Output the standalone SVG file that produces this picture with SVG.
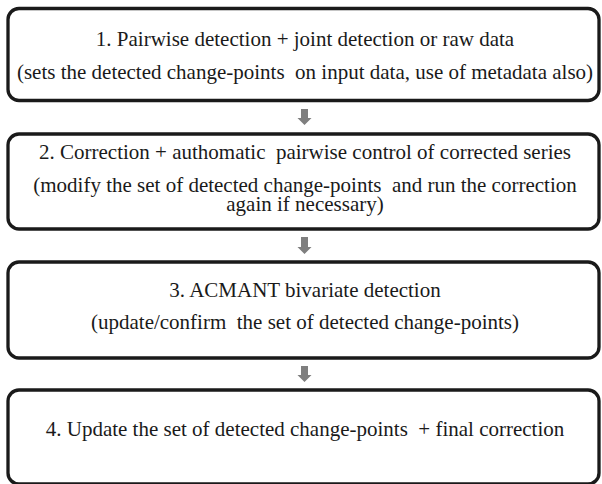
<svg xmlns="http://www.w3.org/2000/svg" width="602" height="484" viewBox="0 0 602 484">
<style>
.box{fill:#fff;stroke:#1a1a1a;stroke-width:3.3}
.t{font-family:'Liberation Serif','Times New Roman',serif;font-size:21px;fill:#1a1a1a;text-anchor:middle;white-space:pre}
.arr{fill:#7f7f7f}
</style>
<rect width="602" height="484" fill="#fff"/>
<g id="node1">
<rect class="box" x="8" y="8.5" width="591" height="92" rx="11"/>
<text class="t" x="305" y="46">1. Pairwise detection + joint detection or raw data</text>
<text class="t" x="305" y="79">(sets the detected change-points  on input data, use of metadata also)</text>
</g>
<g id="node2">
<rect class="box" x="8" y="134" width="591" height="95" rx="11"/>
<text class="t" x="305" y="159">2. Correction + authomatic  pairwise control of corrected series</text>
<text class="t" x="305" y="192">(modify the set of detected change-points  and run the correction</text>
<text class="t" x="305" y="211">again if necessary)</text>
</g>
<g id="node3">
<rect class="box" x="8" y="262" width="591" height="96" rx="11"/>
<text class="t" x="305" y="297">3. ACMANT bivariate detection</text>
<text class="t" x="305" y="329">(update/confirm  the set of detected change-points)</text>
</g>
<g id="node4">
<rect class="box" x="8" y="390" width="591" height="94" rx="11"/>
<text class="t" x="305" y="436">4. Update the set of detected change-points  + final correction</text>
</g>
<g id="connectors">
<path class="arr" d="M301,109 h7 v9 h3.5 l-7,7 l-7,-7 h3.5 z"/>
<path class="arr" d="M301,237 h7 v10 h3.5 l-7,7 l-7,-7 h3.5 z"/>
<path class="arr" d="M301,366 h7 v9 h3.5 l-7,7 l-7,-7 h3.5 z"/>
</g>
</svg>
